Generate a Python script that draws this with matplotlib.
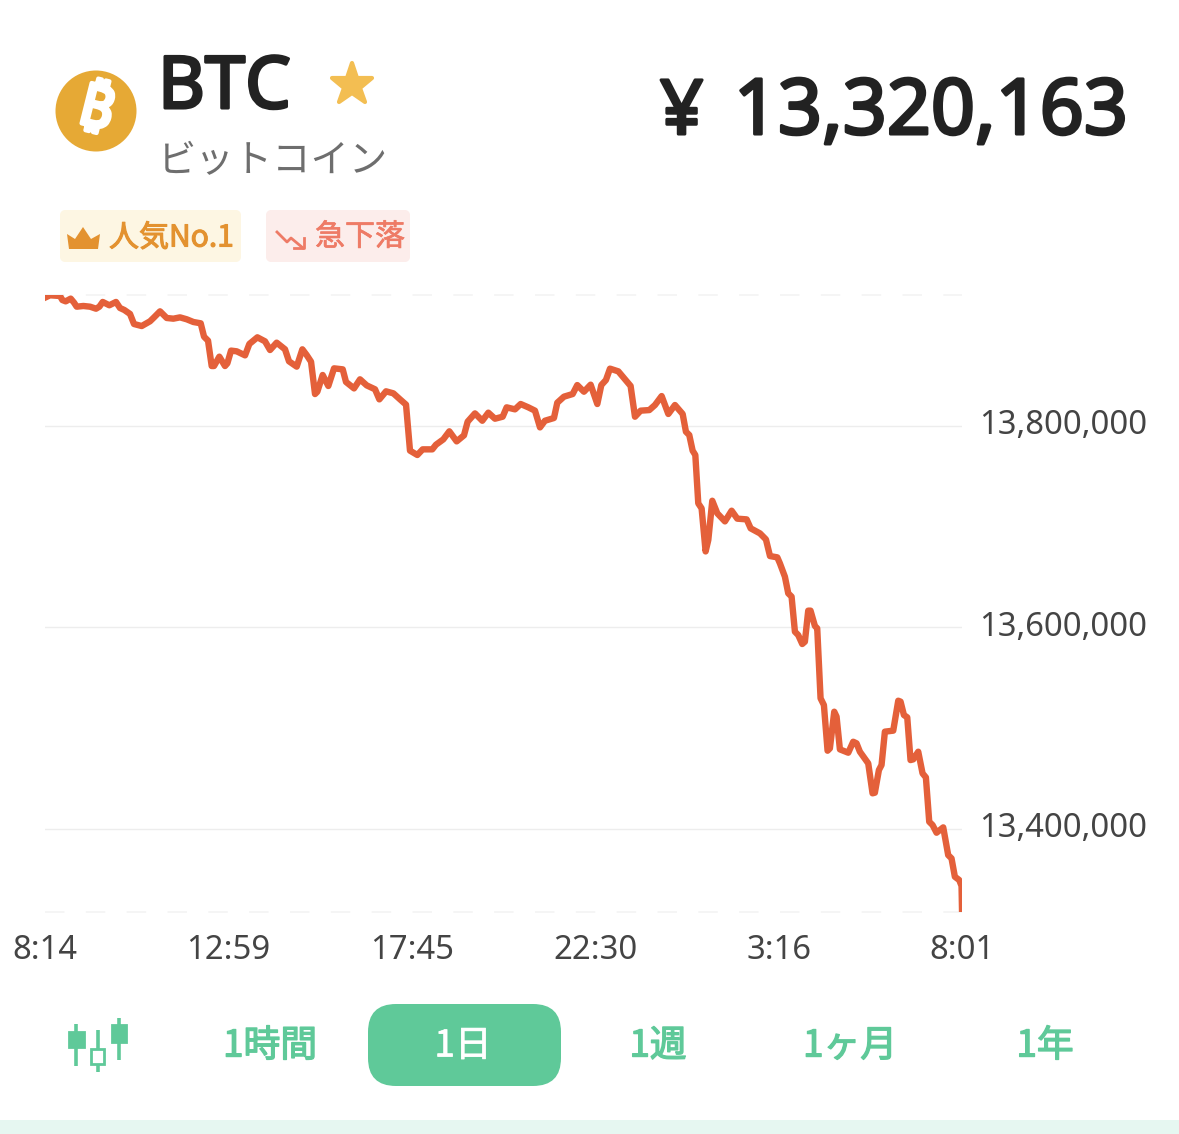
import matplotlib
matplotlib.use("Agg")
import matplotlib.pyplot as plt
import matplotlib.patheffects as pe
import numpy as np
from matplotlib.markers import MarkerStyle
from matplotlib.patches import FancyBboxPatch, Polygon, Rectangle, Circle
from matplotlib.transforms import ScaledTranslation

# minutes since 8:14
time_min = [1.1, 7.8, 23.4, 27, 32.2, 40, 45.2, 49.3, 59.7, 70.1, 79.4, 84.6, 89.8, 100.1, 110.5, 116.7, 123.5, 132.3,
            138.5, 150.5, 163.4, 169.7, 179, 189.4, 199.7, 210.1, 220.5, 230.9, 242.3, 247.5, 253.7, 259.4, 263, 271.3,
            280.1, 283.8, 289.5, 298.3, 311.3, 318, 330.5, 342.4, 350.2, 360.5, 373.5, 379.7, 391.7, 400.5, 407.2, 414,
            420.2, 423.8, 432.1, 440.9, 449.8, 463.3, 468.4, 480.9, 490.2, 500.6, 513.6, 520.3, 530.7, 542.1, 552.5,
            561.8, 568, 579.4, 587.7, 602.7, 608.4, 619.8, 629.2, 640.6, 652, 657.7, 669.1, 680.5, 689.9, 700.2, 712.2,
            718.4, 731.4, 740.2, 752.1, 762.5, 770.3, 778, 792, 797.2, 807.6, 821.1, 828.3, 838.7, 849.1, 859.5, 865.7,
            872.9, 879.2, 892.2, 900.9, 911.3, 918.1, 926.9, 940.4, 949.2, 959.6, 970, 980.3, 992.3, 997.4, 1002.6,
            1007.8, 1012, 1016.6, 1021.8, 1028, 1032.2, 1038.4, 1046.2, 1058.1, 1068.5, 1077.3, 1091.9, 1098.1, 1112.6,
            1121.9, 1128.2, 1139.6, 1143.6, 1151.4, 1156.6, 1161.8, 1167, 1172.1, 1178.4, 1182.5, 1187.7, 1191.3, 1198.1,
            1201.7, 1206.9, 1212.1, 1217.8, 1221.4, 1228.2, 1231.8, 1237, 1250, 1257.7, 1262.9, 1268.1, 1281.1, 1287.8,
            1291.4, 1297.7, 1301.8, 1307, 1320, 1327.8, 1331.4, 1336.6, 1341.8, 1346.9, 1351.1, 1358.9, 1365.6, 1370.8,
            1376, 1381.2, 1387.4, 1397.8, 1405.5, 1410.7, 1415.9, 1422.7, 1426.3, 1427]
# price in thousand yen
price_k = [13927.7, 13929.7, 13929, 13925, 13923.7, 13926.4, 13922.4, 13918.4, 13919.1, 13918.4, 13916.4, 13918.4,
           13923.1, 13919.8, 13923.1, 13917.1, 13915.1, 13911.2, 13901.2, 13899.2, 13903.9, 13907.8, 13913.8, 13907.2,
           13906.5, 13907.8, 13905.9, 13903.2, 13901.9, 13888.6, 13884.7, 13859.5, 13859.5, 13868.8, 13859.5, 13862.2,
           13874.8, 13874.1, 13870.1, 13881.4, 13888, 13884, 13875.4, 13882.7, 13876.1, 13864.2, 13858.9, 13876.1,
           13870.4, 13863.8, 13831.7, 13834, 13850.6, 13839.7, 13857.2, 13856.2, 13843.7, 13837.3, 13846.3, 13840.3,
           13836.4, 13826.4, 13834.4, 13832.4, 13826.4, 13821.2, 13775.5, 13771.2, 13776.8, 13776.8, 13781.4, 13786.7,
           13794.7, 13784.7, 13790.7, 13804.3, 13812.5, 13805.2, 13813.2, 13807.2, 13809.2, 13818.5, 13816.5, 13821.8,
           13818.5, 13815.2, 13798.6, 13805.2, 13807.9, 13823.1, 13829.1, 13831.7, 13840.6, 13834, 13841, 13821.8,
           13840.6, 13845.6, 13856.9, 13854.2, 13847.6, 13839.7, 13809.2, 13815.2, 13815.8, 13820.8, 13829.7, 13811.9,
           13820.8, 13811.9, 13794.3, 13791, 13775.5, 13771.2, 13723.2, 13718.2, 13675.5, 13686.8, 13725.8, 13713.3,
           13705.3, 13715.9, 13708, 13707.3, 13698.4, 13693.4, 13687.4, 13670.9, 13669.6, 13663.7, 13650.4, 13633.9,
           13630.6, 13595.8, 13592.5, 13583.6, 13585.9, 13616.7, 13616.7, 13601.5, 13599.1, 13529.7, 13523, 13477.7,
           13480, 13516.4, 13511.5, 13479, 13475.7, 13486.6, 13485, 13476.7, 13465.1, 13435.4, 13436, 13458.5, 13463.5,
           13496.6, 13497.6, 13527.3, 13526.4, 13513.1, 13510.8, 13468.4, 13469.1, 13476.7, 13455.2, 13451.2, 13407.2,
           13403.9, 13396.3, 13401.6, 13374.1, 13370.8, 13352.6, 13349.3, 13343.4, 13320.163]

x_ticks = [0, 285, 571, 856, 1142, 1427]
x_labels = ["8:14", "12:59", "17:45", "22:30", "3:16", "8:01"]
y_ticks = [13800000, 13600000, 13400000]
y_labels = ["13,800,000", "13,600,000", "13,400,000"]
tab_labels = ["1時間", "1日", "1週", "1ヶ月", "1年"]

W, H = 1179, 1134
JP = ["Noto Sans CJK JP", "DejaVu Sans"]
LAT = ["Noto Sans", "Noto Sans CJK JP", "DejaVu Sans"]
GREEN = "#5FC999"
ORANGE = "#E39230"
RED = "#EE7B66"
DARK = "#222222"


def heavy(w, col):
    # Noto Sans only has the regular weight here, so thicken it with a stroke
    return [pe.withStroke(linewidth=w, foreground=col)]


fig = plt.figure(figsize=(W / 100, H / 100), dpi=100, facecolor="white")

# overlay in pixel coords for the app chrome
bg = fig.add_axes([0, 0, 1, 1])
bg.set_xlim(0, W)
bg.set_ylim(H, 0)
bg.axis("off")

# coin
bg.add_patch(Circle((96, 111), 40.5, color="#E6A935", lw=0))
bg.text(96, 111, "₿", color="white", fontsize=42, family=LAT, rotation=-14, ha="center", va="center",
        path_effects=heavy(3, "white"))

bg.text(158, 108, "BTC", fontsize=52, family=LAT, color=DARK, ha="left", va="baseline",
        path_effects=heavy(2.2, DARK))
bg.plot([352], [85], marker=MarkerStyle("*", joinstyle="round"), ms=31, color="#F3BE52", mec="#F3BE52", mew=3)
bg.text(158, 172, "ビットコイン", fontsize=27.6, family=JP, color="#6E6E6E", ha="left", va="baseline")
bg.text(660, 134, "¥", fontsize=54.5, family=LAT, color=DARK, ha="left", va="baseline",
        path_effects=heavy(2.2, DARK))
bg.text(1128, 134, "13,320,163", fontsize=55.5, family=LAT, color=DARK, ha="right", va="baseline",
        path_effects=heavy(2.2, DARK))

# badges
bg.add_patch(FancyBboxPatch((64, 214), 173, 44, boxstyle="round,pad=0,rounding_size=1", mutation_aspect=1,
                            fc="#FDF6E3", ec="#FDF6E3", lw=5.76, joinstyle="round"))
bg.add_patch(FancyBboxPatch((270, 214), 136, 44, boxstyle="round,pad=0,rounding_size=1", mutation_aspect=1,
                            fc="#FCEDEB", ec="#FCEDEB", lw=5.76, joinstyle="round"))
bg.add_patch(Polygon([(67, 234), (75, 239), (83, 227), (91, 239), (100, 234), (98, 249), (69, 249)],
                     closed=True, color=ORANGE, lw=0))
bg.text(109, 238, "人気No.1", fontsize=21.6, family=JP, color=ORANGE, ha="left", va="center",
        path_effects=heavy(0.8, ORANGE))
bg.plot([277, 287, 291, 303], [232, 242, 238, 248], color=RED, lw=2)
bg.plot([294, 304, 304], [248, 248, 238], color=RED, lw=2)
bg.text(315, 237, "急下落", fontsize=21.6, family=JP, color=RED, ha="left", va="center",
        path_effects=heavy(0.5, RED))

# tabs
for cx, wick, body, hollow in [(76, (1024, 1066), (69, 84, 1032, 1047), False),
                               (97.5, (1030, 1072), (91, 104, 1049, 1064), True),
                               (118.5, (1018, 1060), (112, 125.5, 1025, 1042), False)]:
    bg.plot([cx, cx], wick, color=GREEN, lw=2.6, solid_capstyle="butt")
    bg.add_patch(Rectangle((body[0], body[2]), body[1] - body[0], body[3] - body[2],
                           fc="white" if hollow else GREEN, ec=GREEN, lw=2, zorder=3))
bg.add_patch(FancyBboxPatch((368 + 28, 1004 + 28), 193 - 56, 82 - 56, boxstyle="round,pad=28",
                            fc=GREEN, ec="none"))
for lab, cx in zip(tab_labels, [270, 463, 658, 850, 1045]):
    bg.text(cx, 1046, lab, fontsize=26.5, family=JP, color="white" if lab == "1日" else GREEN,
            ha="center", va="center",
            path_effects=heavy(0.5, "white") if lab == "1日" else heavy(1, GREEN))
bg.add_patch(Rectangle((0, 1120), W, 14, color="#E6F7F1", lw=0))

# price chart
ax = fig.add_axes([45 / W, (H - 912) / H, 917 / W, 617 / H])
ax.patch.set_alpha(0)
ax.plot(time_min, np.array(price_k) * 1000, color="#E4603A", lw=4.6, solid_joinstyle="round",
        solid_capstyle="projecting", zorder=3)
ax.set_xlim(0, 1427)
ax.set_ylim(13317600, 13930000)
for s in ax.spines.values():
    s.set_visible(False)
ax.yaxis.tick_right()
ax.set_yticks(y_ticks, labels=y_labels, fontsize=23.6, family="Noto Sans", color="#444444")
ax.set_xticks(x_ticks, labels=x_labels, fontsize=23.6, family="Noto Sans", color="#444444")
ax.tick_params(axis="both", length=0)
ax.tick_params(axis="y", pad=12)
ax.tick_params(axis="x", pad=15.5)
ax.grid(axis="y", color="#EDEDED", lw=1)
for yv in ax.get_ylim():
    ax.axhline(yv, color="#F5F5F5", lw=1.4, dashes=(10, 11), clip_on=False)
# y labels sit a little above their gridlines
up = ScaledTranslation(0, 4 / 100, fig.dpi_scale_trans)
for lab in ax.get_yticklabels():
    lab.set_transform(lab.get_transform() + up)

fig.savefig("out.png", dpi=100)
